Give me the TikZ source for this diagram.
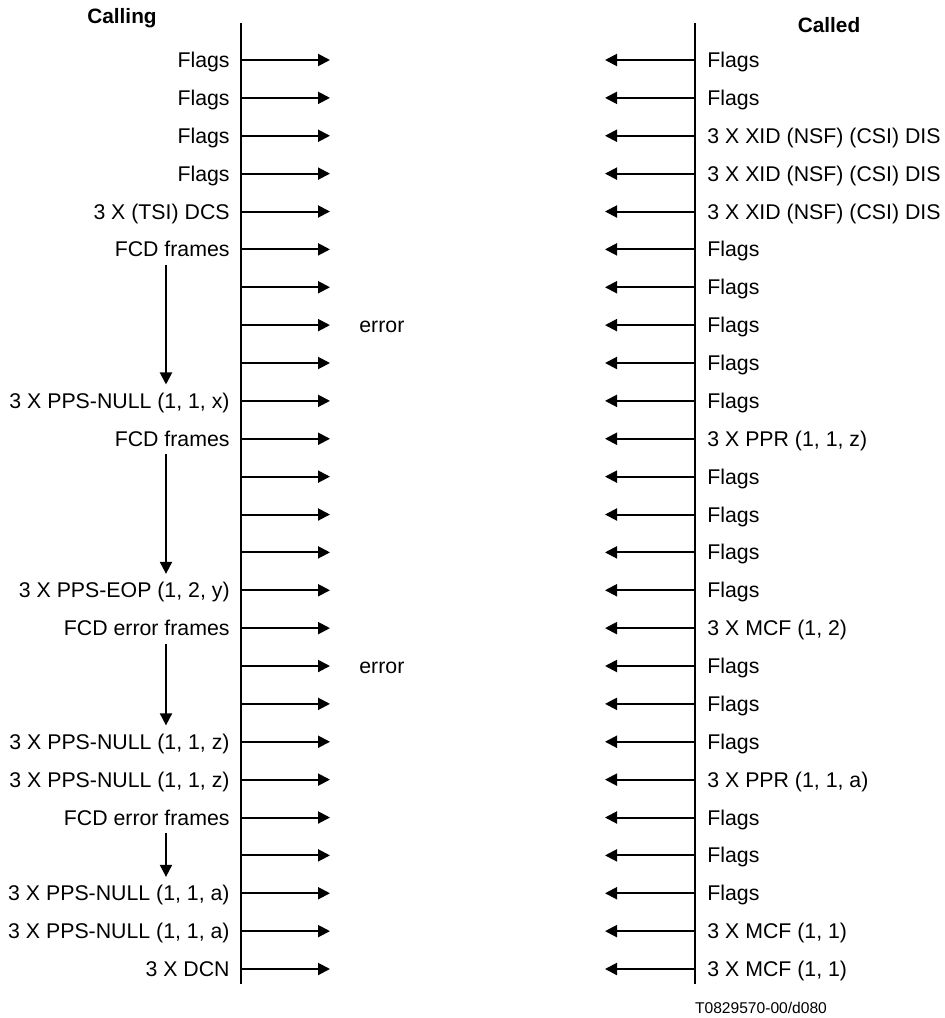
\documentclass[tikz,border=0pt]{standalone}
\usepackage{fontspec}
\setmainfont{Liberation Sans}
\usetikzlibrary{arrows.meta}
\usetikzlibrary{positioning}

\begin{document}
\begin{tikzpicture}[x=0.5pt,y=-0.5pt,
    lbl/.style={font=\fontsize{10.65}{12}\selectfont, inner sep=0pt, text height=7.6pt, text depth=0pt},
    msg/.style={line width=1pt, -{Triangle[length=6pt,width=6pt]}},
    life/.style={line width=1pt}]
    \useasboundingbox (0,0) rectangle (945,1018);
    % stations
    \node[font=\fontsize{10.4}{12}\selectfont\bfseries] (calling) at (122,18) {Calling};
    \node[font=\fontsize{10.4}{12}\selectfont\bfseries] (called) at (829,25) {Called};
    \coordinate (ltop) at (241,23); \coordinate (lbot) at (241,984);
    \coordinate (rtop) at (695,23); \coordinate (rbot) at (695,984);
    \draw[life] (ltop) -- (lbot);
    \draw[life] (rtop) -- (rbot);
    % calling side
    \foreach \l [count=\i] in {Flags,Flags,Flags,Flags,3 X (TSI) DCS,FCD frames,,,,{3 X PPS-NULL (1, 1, x)},FCD frames,,,,{3 X PPS-EOP (1, 2, y)},FCD error frames,,,{3 X PPS-NULL (1, 1, z)},{3 X PPS-NULL (1, 1, z)},FCD error frames,,{3 X PPS-NULL (1, 1, a)},{3 X PPS-NULL (1, 1, a)},3 X DCN} {
        \pgfmathsetmacro\y{60+(\i-1)*37.875}
        \coordinate (la\i) at (241,\y);
        \coordinate (lt\i) at (330,\y);
        \node[lbl,anchor=east] (cl\i) at (230,\y) {\l};
        \draw[msg] (la\i) -- (lt\i);
    }
    % called side
    \foreach \r [count=\i] in {Flags,Flags,{3 X XID (NSF) (CSI) DIS},{3 X XID (NSF) (CSI) DIS},{3 X XID (NSF) (CSI) DIS},Flags,Flags,Flags,Flags,Flags,{3 X PPR (1, 1, z)},Flags,Flags,Flags,Flags,{3 X MCF (1, 2)},Flags,Flags,Flags,{3 X PPR (1, 1, a)},Flags,Flags,Flags,{3 X MCF (1, 1)},{3 X MCF (1, 1)}} {
        \pgfmathsetmacro\y{60+(\i-1)*37.875}
        \coordinate (ra\i) at (695,\y);
        \coordinate (rt\i) at (605,\y);
        \node[lbl,anchor=west] (cd\i) at (707,\y) {\r};
        \draw[msg] (ra\i) -- (rt\i);
    }
    % lost frames
    \node[lbl,anchor=west,right=14.5pt of lt8] (err1) {error};
    \node[lbl,anchor=west,right=14.5pt of lt17] (err2) {error};
    % repeated blocks
    \coordinate (dx) at (166,0);
    \draw[msg, shorten <=3.7pt, shorten >=4.2pt] (cl6.south -| dx) -- (cl10.north -| dx);
    \draw[msg, shorten <=3.7pt, shorten >=4.2pt] (cl11.south -| dx) -- (cl15.north -| dx);
    \draw[msg, shorten <=3.7pt, shorten >=4.2pt] (cl16.south -| dx) -- (cl19.north -| dx);
    \draw[msg, shorten <=3.7pt, shorten >=4.2pt] (cl21.south -| dx) -- (cl23.north -| dx);
    \node[font=\fontsize{7.8}{9}\selectfont] (fig) at (761,1008) {T0829570-00/d080};
\end{tikzpicture}
\end{document}
